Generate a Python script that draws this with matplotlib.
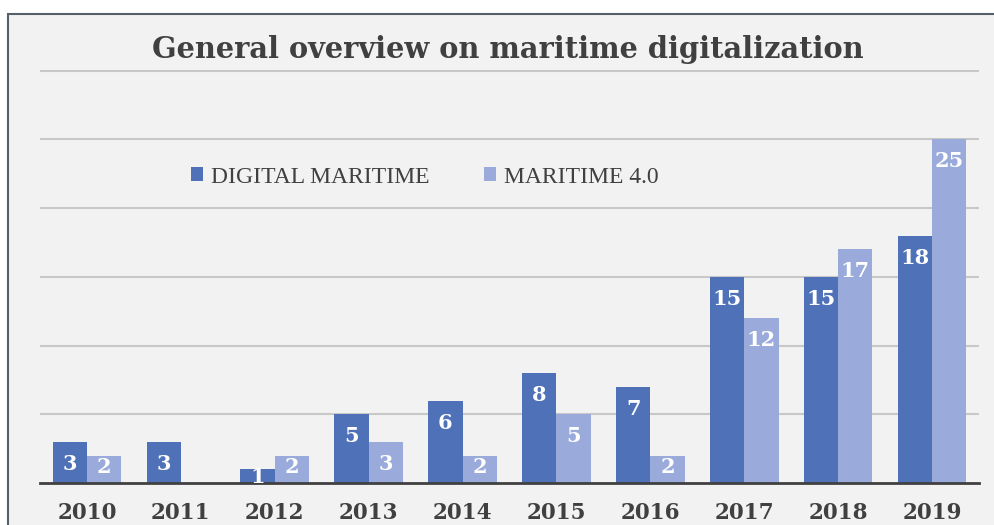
import matplotlib
matplotlib.use("Agg")
import matplotlib.pyplot as plt
from matplotlib.patches import Rectangle
import numpy as np

YEARS = ["2010", "2011", "2012", "2013", "2014", "2015", "2016", "2017", "2018", "2019"]
DIGITAL = [3, 3, 1, 5, 6, 8, 7, 15, 15, 18]
MAR40 = [2, 0, 2, 3, 2, 5, 2, 12, 17, 25]
SERIES = ["DIGITAL MARITIME", "MARITIME 4.0"]

C_DARK = "#4f71b7"
C_LIGHT = "#99aadb"
TXT = "#404040"
SERIF = ["DejaVu Serif"]


def label_y(v):
    # Excel "inside end": just under the top, pushed down for short bars
    if v - 1.6 > 1.16:
        return v - 1.6
    return 1.16 if v >= 2 else 0.45


fig = plt.figure(figsize=(9.95, 5.25), dpi=100)
fig.patch.set_facecolor("white")
# chart frame (cropped at right/bottom in the original)
fig.add_artist(Rectangle((8 / 995, -0.1), 1.2, 1 - 14 / 525 + 0.1,
                         transform=fig.transFigure, facecolor="#f2f2f2",
                         edgecolor="#56606b", lw=1.5, zorder=-10))

ax = fig.add_axes([40 / 995, 1 - 483 / 525, (979 - 40) / 995, (483 - 70) / 525])
ax.set_facecolor("none")

x = np.arange(len(YEARS))
w = 0.365
b1 = ax.bar(x - w / 2, DIGITAL, w, color=C_DARK, label=SERIES[0], zorder=3)
b2 = ax.bar(x + w / 2, MAR40, w, color=C_LIGHT, label=SERIES[1], zorder=3)

for bars, vals in [(b1, DIGITAL), (b2, MAR40)]:
    for r, v in zip(bars, vals):
        if v == 0:
            continue
        ax.text(r.get_x() + r.get_width() / 2, label_y(v), str(v), ha="center", va="center",
                color="white", fontsize=15, fontweight="bold", family=SERIF, zorder=6)

ax.set_xlim(-0.5, len(YEARS) - 0.5)
ax.set_ylim(0, 30.05)
ax.set_yticks(np.arange(5, 31, 5))
ax.yaxis.grid(True, color="#c8c8c8", lw=1.5, zorder=0)
ax.tick_params(axis="y", left=False, labelleft=False)
ax.tick_params(axis="x", length=0, pad=14)
ax.set_xticks(x)
ax.set_xticklabels(YEARS, fontsize=15.5, fontweight="bold", family=SERIF, color=TXT)
for s in ["top", "right", "left"]:
    ax.spines[s].set_visible(False)
ax.spines["bottom"].set_color(TXT)
ax.spines["bottom"].set_linewidth(2)
ax.spines["bottom"].set_zorder(5)

fig.text(0.51, 1 - 50 / 525, "General overview on maritime digitalization", ha="center",
         va="center", fontsize=20.8, fontweight="bold", family=SERIF, color=TXT)

leg = ax.legend(loc="center left", bbox_to_anchor=(130 / 939, (483 - 177) / 413), ncol=2,
                frameon=False, handlelength=0.5, handleheight=0.5, columnspacing=2.3,
                handletextpad=0.35, prop={"family": "Liberation Serif", "size": 17})
for t in leg.get_texts():
    t.set_color(TXT)

fig.savefig("out.png", dpi=100)
